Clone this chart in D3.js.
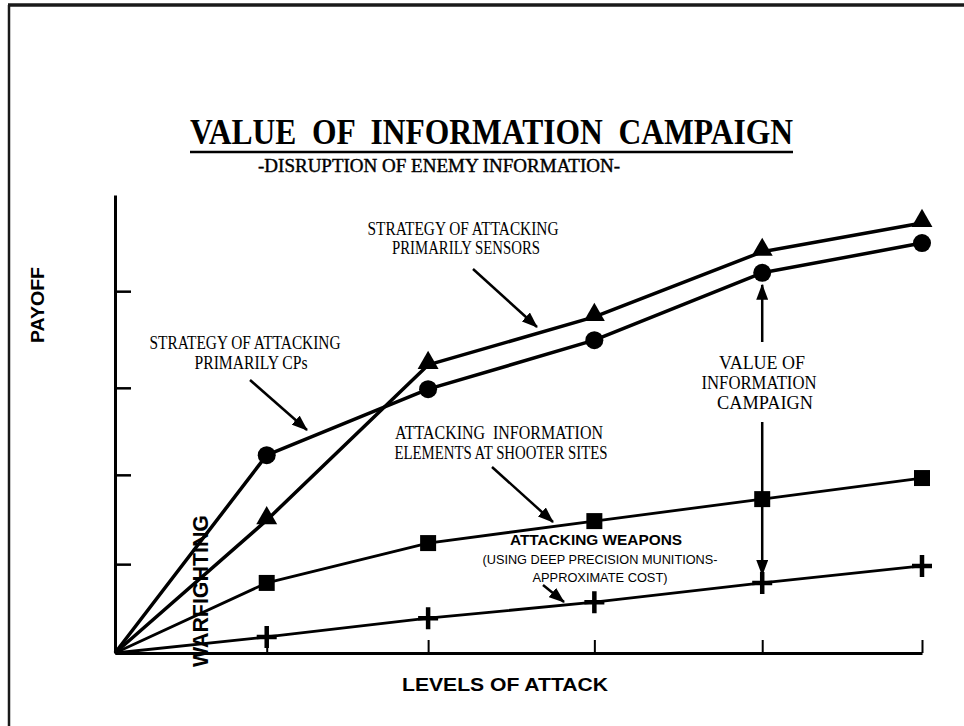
<!DOCTYPE html>
<html>
<head>
<meta charset="utf-8">
<script src="https://cdn.jsdelivr.net/npm/d3@7"></script>
<style>
  html, body { margin: 0; padding: 0; background: #fff; }
  svg { display: block; }
</style>
</head>
<body>
<svg id="chart" width="964" height="726"></svg>
<script>
// ---- data ----
const levels = [0, 0.94, 1.94, 2.97, 4.01, 5];
const cpValues = [0, 43.2, 57.6, 68.3, 83.0, 89.5];        // strategy of attacking primarily CPs (circles)
const sensorValues = [0, 29.0, 62.9, 73.4, 87.6, 93.9];    // strategy of attacking primarily sensors (triangles)
const shooterValues = [0, 15.3, 24.0, 28.8, 33.6, 38.2];   // attacking information elements at shooter sites (squares)
const weaponValues = [0, 3.5, 7.6, 11.1, 15.3, 19.0];      // attacking weapons (plus)
const payoffTicks = [19.4, 38.9, 57.9, 79.0];
const levelTicks = levels.slice(1);

const titleText = "VALUE  OF  INFORMATION  CAMPAIGN";
const subtitleText = "-DISRUPTION OF ENEMY INFORMATION-";
const xAxisLabel = "LEVELS OF ATTACK";
const yAxisLabel = "PAYOFF";

// ---- setup ----
const svg = d3.select("#chart");
svg.append("rect").attr("width", 964).attr("height", 726).attr("fill", "#fff");

// frame
svg.append("line").attr("x1", 9).attr("y1", 5).attr("x2", 9).attr("y2", 726)
  .attr("stroke", "#1a1a1a").attr("stroke-width", 2.5);
svg.append("line").attr("x1", 8).attr("y1", 5).attr("x2", 964).attr("y2", 5)
  .attr("stroke", "#1a1a1a").attr("stroke-width", 3.5);

const x = d3.scaleLinear().domain([0, 5]).range([115, 922]);
const y = d3.scaleLinear().domain([0, 100]).range([653, 195]);

// defs: arrowhead
const defs = svg.append("defs");
defs.append("marker")
  .attr("id", "arrow")
  .attr("viewBox", "0 0 16 12")
  .attr("refX", 15).attr("refY", 6)
  .attr("markerWidth", 16).attr("markerHeight", 12)
  .attr("markerUnits", "userSpaceOnUse")
  .attr("orient", "auto")
  .append("path").attr("d", "M0,0 L16,6 L0,12 Z").attr("fill", "#000");

// ---- axes ----
const yAxis = d3.axisRight(y).tickValues(payoffTicks).tickSize(16).tickSizeOuter(0).tickFormat("");
const gy = svg.append("g").attr("transform", "translate(115,0)").call(yAxis);
gy.select(".domain").attr("stroke", "#000").attr("stroke-width", 3);
gy.selectAll(".tick line").attr("stroke", "#000").attr("stroke-width", 2.5);

const xAxis = d3.axisTop(x).tickValues(levelTicks).tickSize(13).tickSizeOuter(0).tickFormat("");
const gx = svg.append("g").attr("transform", "translate(0,653)").call(xAxis);
gx.select(".domain").attr("stroke", "#000").attr("stroke-width", 3);
gx.selectAll(".tick line").attr("stroke", "#000").attr("stroke-width", 2);

// ---- series ----
const line = d3.line().x(d => x(d[0])).y(d => y(d[1]));
const series = [
  { vals: cpValues, width: 3.5, mark: "circle" },
  { vals: sensorValues, width: 3.5, mark: "triangle" },
  { vals: shooterValues, width: 2.8, mark: "square" },
  { vals: weaponValues, width: 2.8, mark: "plus" }
];

series.forEach(s => {
  const pts = levels.map((l, i) => [l, s.vals[i]]);
  svg.append("path").datum(pts).attr("d", line)
    .attr("fill", "none").attr("stroke", "#000").attr("stroke-width", s.width)
    .attr("stroke-linejoin", "round");
  const mpts = pts.slice(1);
  const g = svg.append("g");
  if (s.mark === "circle") {
    g.selectAll("circle").data(mpts).join("circle")
      .attr("cx", d => x(d[0])).attr("cy", d => y(d[1])).attr("r", 9).attr("fill", "#000");
  } else if (s.mark === "triangle") {
    g.selectAll("path").data(mpts).join("path")
      .attr("d", d3.symbol(d3.symbolTriangle, 190))
      .attr("transform", d => `translate(${x(d[0])},${y(d[1]) - 2})`).attr("fill", "#000");
  } else if (s.mark === "square") {
    g.selectAll("path").data(mpts).join("path")
      .attr("d", d3.symbol(d3.symbolSquare, 256))
      .attr("transform", d => `translate(${x(d[0])},${y(d[1])})`).attr("fill", "#000");
  } else {
    g.selectAll("path").data(mpts).join("path")
      .attr("d", "M-10,0 L10,0 M0,-11 L0,11")
      .attr("transform", d => `translate(${x(d[0])},${y(d[1])})`)
      .attr("stroke", "#000").attr("stroke-width", 4.5).attr("fill", "none");
  }
});

// ---- text helpers ----
function txt(str, cx, by, w, size, family, weight, anchor) {
  const t = svg.append("text")
    .attr("x", cx).attr("y", by)
    .attr("text-anchor", anchor || "middle")
    .attr("font-family", family)
    .attr("font-size", size)
    .attr("font-weight", weight || "normal")
    .attr("fill", "#000")
    .style("white-space", "pre")
    .text(str);
  if (w) t.attr("textLength", w).attr("lengthAdjust", "spacingAndGlyphs");
  return t;
}
const SERIF = "'Liberation Serif', 'Times New Roman', serif";
const SANS = "'Liberation Sans', Arial, sans-serif";

// title
txt(titleText, 491.5, 144, 603, 36, SERIF, "bold");
svg.append("line").attr("x1", 190).attr("x2", 793).attr("y1", 152).attr("y2", 152)
  .attr("stroke", "#000").attr("stroke-width", 2.5);
txt(subtitleText, 439, 172, 362, 18, SERIF, "normal").attr("stroke", "#000").attr("stroke-width", 0.4);

// axis labels
txt(xAxisLabel, 505, 691, 206, 19, SANS, "bold");
txt(yAxisLabel, 0, 0, 76, 19, SANS, "bold")
  .attr("transform", "translate(44,305) rotate(-90)");
txt("WARFIGHTING", 0, 0, 152, 22, SANS, "bold")
  .attr("transform", "translate(208,591) rotate(-90)");

// annotations (serif)
txt("STRATEGY OF ATTACKING", 463, 235, 191, 19, SERIF);
txt("PRIMARILY SENSORS", 466, 254, 148, 19, SERIF);
txt("STRATEGY OF ATTACKING", 245, 349, 191, 19, SERIF);
txt("PRIMARILY CPs", 251, 369, 113, 19, SERIF);
txt("ATTACKING  INFORMATION", 499, 439, 208, 19, SERIF);
txt("ELEMENTS AT SHOOTER SITES", 501, 459, 213, 19, SERIF);
txt("VALUE OF", 762, 369, 86, 19, SERIF);
txt("INFORMATION", 759, 389, 115, 19, SERIF);
txt("CAMPAIGN", 765, 409, 96, 19, SERIF);

// weapons annotation (sans)
txt("ATTACKING WEAPONS", 596, 545, 172, 15, SANS, "bold");
txt("(USING DEEP PRECISION MUNITIONS-", 600, 564, 235, 13, SANS);
txt("APPROXIMATE COST)", 600, 582, 135, 13, SANS);

// arrows
function arrow(x1, y1, x2, y2, w) {
  svg.append("line").attr("x1", x1).attr("y1", y1).attr("x2", x2).attr("y2", y2)
    .attr("stroke", "#000").attr("stroke-width", w || 2.5).attr("marker-end", "url(#arrow)");
}
arrow(473, 269, 537, 327);
arrow(250, 380, 307, 430);
arrow(492, 467, 553, 522);
arrow(543, 585, 564, 602);
// value of information campaign arrows, anchored on the level-4 data
const xv = x(levels[4]);
arrow(xv, 342, xv, y(cpValues[4]) + 12, 2.5);
arrow(xv, 422, xv, y(weaponValues[4]) - 8, 2.5);
</script>
</body>
</html>
